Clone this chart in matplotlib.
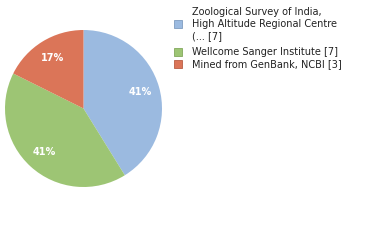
import matplotlib
matplotlib.use('Agg')
import matplotlib.pyplot as plt
from matplotlib.patches import Rectangle

labels = ['Zoological Survey of India,\nHigh Altitude Regional Centre\n(... [7]',
          'Wellcome Sanger Institute [7]',
          'Mined from GenBank, NCBI [3]']
counts = [7, 7, 3]
colors = ['#9bbae0', '#9dc574', '#db7558']
edge_colors = ['#7f9cc0', '#82a85c', '#b95e44']

W, H = 380, 240
fig = plt.figure(figsize=(W / 100, H / 100), dpi=100)
ax = fig.add_axes([5 / W, 1 - 187 / H, 157 / W, 157 / H])
wedges, texts, autotexts = ax.pie(counts, colors=colors, startangle=90, counterclock=False,
                                  autopct=lambda p: '%d%%' % int(p), pctdistance=0.75,
                                  textprops=dict(color='white', fontsize=7, fontweight='bold',
                                                 family='DejaVu Sans'))
ax.set_xlim(-1, 1)
ax.set_ylim(-1, 1)
ax.set_aspect('equal')

# legend drawn by hand so the spacing follows the reference
leg_y = [24, 52, 64]
for lab, c, ec, y in zip(labels, colors, edge_colors, leg_y):
    fig.patches.append(Rectangle((174 / W, 1 - (y + 4) / H), 8 / W, 8 / H,
                                 transform=fig.transFigure, facecolor=c,
                                 edgecolor=ec, linewidth=0.6))
    fig.text(192 / W, 1 - y / H, lab, ha='left', va='center', fontsize=7,
             color='#222222', linespacing=1.2)

fig.savefig('out.png', dpi=100)
